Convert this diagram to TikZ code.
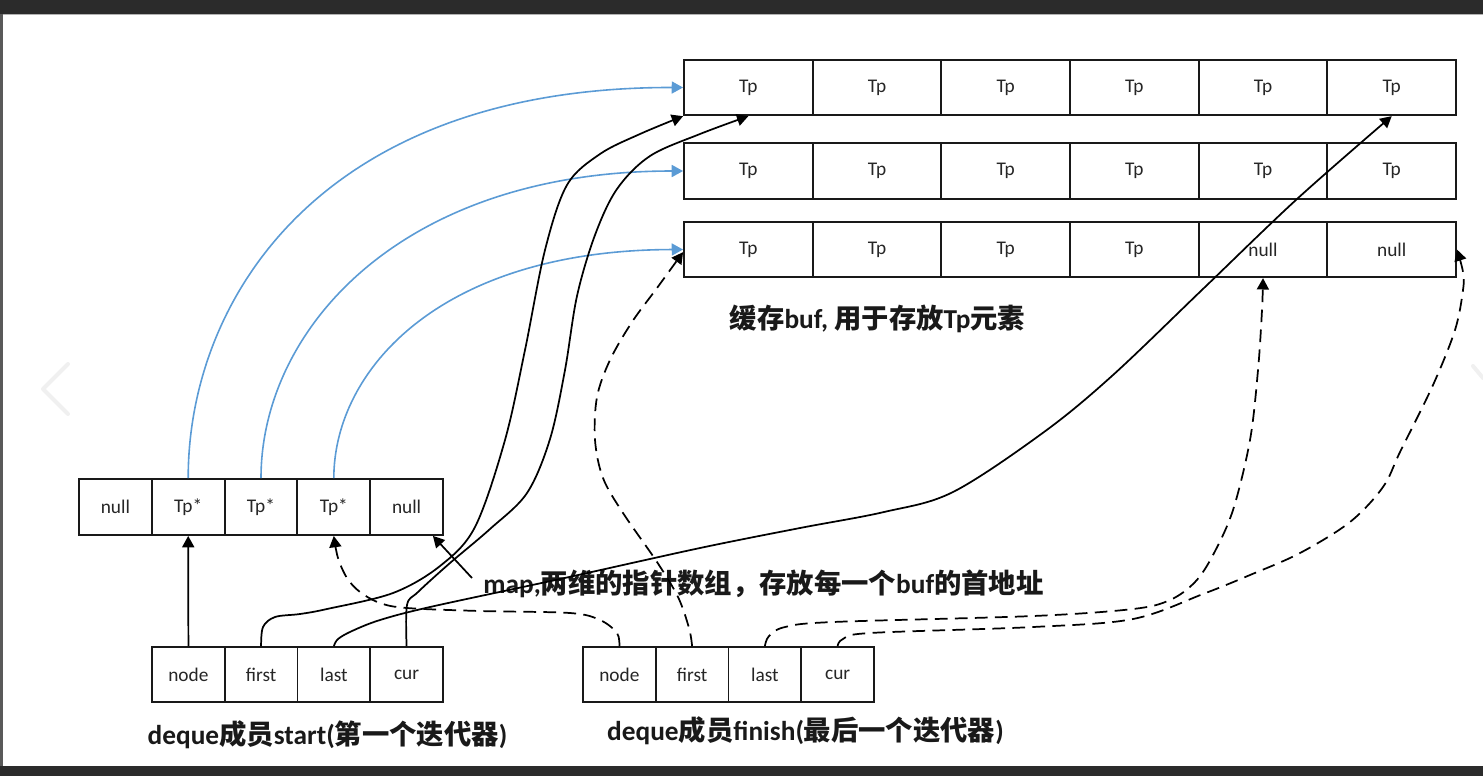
\documentclass[tikz,border=0pt]{standalone}
\usepackage{fontspec}
\setmainfont{Carlito}
\newfontfamily\lat{Carlito}
\newfontfamily\cjk{Noto Sans CJK SC}
\usetikzlibrary{arrows.meta}
\definecolor{frame}{HTML}{2B2B2B}
\definecolor{ptrblue}{HTML}{5B9BD5}
\tikzset{
  cell/.style={draw=black!90, line width=1.4pt, fill=white, minimum width=96.5pt,
    minimum height=41.6pt, inner sep=0pt, font=\lat\fontsize{14.5}{16}\selectfont, text=black!85},
  mcell/.style={cell, minimum width=54.6pt, minimum height=42pt},
  icell/.style={cell, minimum width=54.6pt, minimum height=41.25pt},
  lbl/.style={inner sep=0pt, font=\lat\bfseries\fontsize{20.5}{24}\selectfont, text=black!90},
  tip/.style={-{Triangle[length=8.5pt,width=9pt]}},
  blk/.style={tip, line width=1.3pt, black},
  bluearr/.style={tip, line width=1.2pt, ptrblue},
  dsh/.style={blk, dash pattern=on 9.5pt off 5.5pt},
}
\begin{document}
\begin{tikzpicture}[x=0.75pt,y=-0.75pt]
\useasboundingbox (0,0) rectangle (1483,776);
% screenshot frame
\fill[frame] (0,0) rectangle (1483,14);
\draw[gray!60, line width=0.75pt] (0,14.5) -- (1483,14.5);
\fill[frame] (0,766) rectangle (1483,776);
\fill[black!65] (0,14) rectangle (3,766);
\draw[black!6, line width=3pt, line cap=round, line join=round] (68,364) -- (43,389) -- (68,414);
\draw[black!6, line width=3pt, line cap=round, line join=round] (1473,366) -- (1483,378);

% buffers
\foreach \r/\y in {A/87.5, B/171}{
  \foreach \c in {1,...,6}{
    \node[cell] (b\r\c) at ({684+128.67*(\c-0.5)},\y) {Tp};
  }
}
\foreach \c/\t in {1/Tp, 2/Tp, 3/Tp, 4/Tp, 5/null, 6/null}{
  \node[cell] (bC\c) at ({684+128.67*(\c-0.5)},249.5) {\t};
}

% map
\node[mcell] (m0) at (115.4,507) {null};
\node[mcell] (m1) at (188.2,507) {Tp*};
\node[mcell] (m2) at (261,507) {Tp*};
\node[mcell] (m3) at (333.8,507) {Tp*};
\node[mcell] (m4) at (406.6,507) {null};

% start iterator
\node[icell] (s0) at (188.4,674.5) {node};
\node[icell] (s1) at (261.1,674.5) {first};
\node[icell] (s2) at (333.9,674.5) {last};
\node[icell] (s3) at (406.6,674.5) {cur};

% finish iterator
\node[icell] (f0) at (619.4,674.5) {node};
\node[icell] (f1) at (692.1,674.5) {first};
\node[icell] (f2) at (764.9,674.5) {last};
\node[icell] (f3) at (837.6,674.5) {cur};

% labels
\node[lbl] (buflbl) at (877.5,319) {{\cjk 缓存}buf, {\cjk 用于存放}Tp{\cjk 元素}};
\node[lbl] (maplbl) at (763.5,584) {map,{\cjk 两维的指针数组，存放每一个}buf{\cjk 的首地址}};
\node[lbl] (startlbl) at (327.5,735) {deque{\cjk 成员}start({\cjk 第一个迭代器})};
\node[lbl] (finlbl) at (805.5,731) {deque{\cjk 成员}finish({\cjk 最后一个迭代器})};

% blue pointers map -> buffers
\draw[bluearr] (m1.north) .. controls (188,300) and (320,87) .. (bA1.west);
\draw[bluearr] (m2.north) .. controls (261,330) and (400,171) .. (bB1.west);
\draw[bluearr] (m3.north) .. controls (334,370) and (440,250) .. (bC1.west);

% start iterator pointers
\draw[blk] (s0.north) -- (m1.south);
\draw[blk] plot[smooth, tension=0.55] coordinates {(s1.north) (263,627) (275,617) (300,614) (327,609) (393,593) (440,566) (475,527) (505,440) (525,350) (545,250) (567,185) (600,154) (640,134) (bA1.south west)};
\draw[blk] plot[smooth, tension=0.55] coordinates {(s3.north) (407,605) (418,592) (450,563) (490,529) (527,493) (550,439) (565,370) (577,296) (595,235) (617,189) (650,156) (700,134) (bA1.south)};
\draw[blk] plot[smooth, tension=0.55] coordinates {(s2.north) (338,639) (352,631) (380,620) (430,607) (560,579) (700,548) (800,528) (884,512) (953,492) (1044,432) (1113,375) (1205,287) (1297,199) (bA6.south)};

% finish iterator pointers
\draw[dsh] plot[smooth, tension=0.55] coordinates {(f0.north) (617,633) (600,620) (570,613) (480,611) (407,608) (380,603) (360,592) (347,578) (338,558) (m3.south)};
\draw[dsh] plot[smooth, tension=0.55] coordinates {(f1.north) (689,628) (678,597) (657,562) (623,513) (603,478) (595,440) (597,397) (610,360) (632,322) (657,288) ([yshift=-2pt]bC1.west)};
\draw[dsh] plot[smooth, tension=0.55] coordinates {(f2.north) (769,636) (785,627) (833,622) (1033,616) (1133,609) (1170,600) (1195,582) (1213,555) (1233,510) (1250,440) (1258,370) (1262,310) (bC5.south)};
\draw[dsh] plot[smooth, tension=0.55] coordinates {(f3.north) (843,639) (870,633) (1033,627) (1133,619) (1203,594) (1250,575) (1300,553) (1350,522) (1383,487) (1400,452) (1433,385) (1455,330) (1463,290) (1463,272) (bC6.east)};

% map annotation pointer
\coordinate (mapptr) at (472,578);
\draw[blk] (mapptr) -- ([xshift=-8.25pt]m4.south east);
\end{tikzpicture}
\end{document}
